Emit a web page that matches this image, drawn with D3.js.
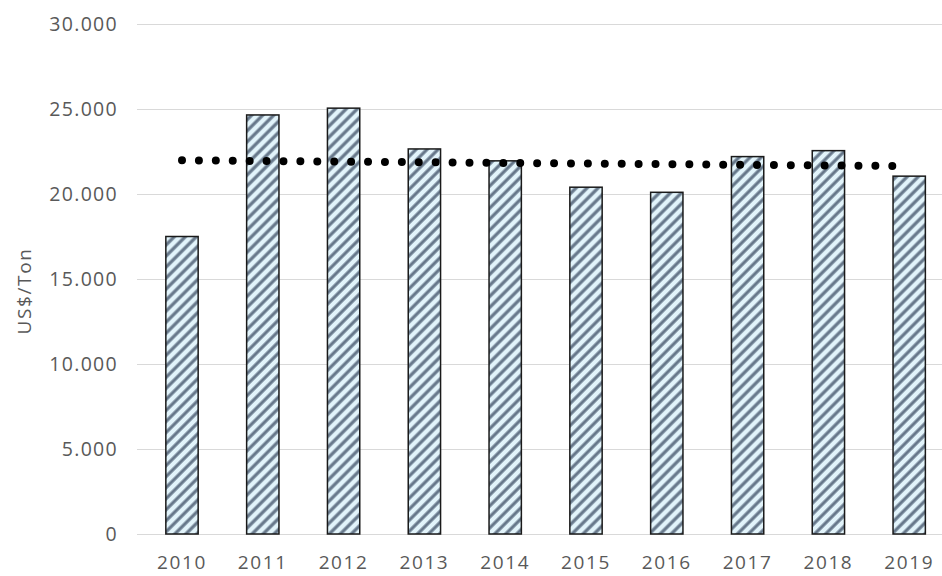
<!DOCTYPE html>
<html>
<head>
<meta charset="utf-8">
<script src="https://cdn.jsdelivr.net/npm/d3@7"></script>
<style>
  html, body { margin: 0; padding: 0; background: #fff; }
  svg { display: block; }
  text { font-family: "Open Sans", sans-serif; fill: #595959; }
</style>
</head>
<body>
<svg id="chart" width="942" height="576"></svg>
<script>
// Annual price, US$ per ton
const years = ["2010", "2011", "2012", "2013", "2014", "2015", "2016", "2017", "2018", "2019"];
const prices = [17500, 24650, 25050, 22650, 21950, 20400, 20100, 22200, 22550, 21050];
const yTicks = [0, 5000, 10000, 15000, 20000, 25000, 30000];
const yLabel = "US$/Ton";

const svg = d3.select("#chart");
const W = 942, H = 576;

const x = d3.scaleBand()
  .domain(years)
  .range([141.6, 949.6])
  .paddingInner(0.6)
  .paddingOuter(0.3);

const y = d3.scaleLinear().domain([0, 30000]).range([534, 24]);

// Diagonal hatch used to fill the bars
const defs = svg.append("defs");
const pat = defs.append("pattern")
  .attr("id", "hatch")
  .attr("patternUnits", "userSpaceOnUse")
  .attr("width", 7.8)
  .attr("height", 7.8)
  .attr("patternTransform", "rotate(45)");
pat.append("rect").attr("width", 7.8).attr("height", 7.8).attr("fill", "#e2f4fb");
pat.append("line")
  .attr("x1", 2).attr("y1", 0).attr("x2", 2).attr("y2", 7.8)
  .attr("stroke", "#66778a").attr("stroke-width", 3.2);

// Horizontal gridlines
svg.append("g")
  .selectAll("line")
  .data(yTicks)
  .join("line")
  .attr("x1", 137).attr("x2", W)
  .attr("y1", d => Math.round(y(d)) + 0.5)
  .attr("y2", d => Math.round(y(d)) + 0.5)
  .attr("stroke", "#d9d9d9")
  .attr("stroke-width", 1);

// Y axis tick labels (dot as thousands separator)
const fmt = d => d === 0 ? "0" : d3.format(",")(d).replace(/,/g, ".");
svg.append("g")
  .selectAll("text")
  .data(yTicks)
  .join("text")
  .attr("x", 118)
  .attr("y", d => y(d))
  .attr("dy", "0.36em")
  .attr("text-anchor", "end")
  .style("font-size", "19.5px")
  .style("letter-spacing", "1.3px")
  .text(fmt);

// X axis labels
svg.append("g")
  .selectAll("text")
  .data(years)
  .join("text")
  .attr("x", d => x(d) + x.bandwidth() / 2)
  .attr("y", 569)
  .attr("text-anchor", "middle")
  .style("font-size", "19px")
  .style("letter-spacing", "1.6px")
  .text(d => d);

// Y axis title
svg.append("text")
  .attr("transform", "translate(31,291) rotate(-90)")
  .attr("text-anchor", "middle")
  .style("font-size", "19px")
  .style("letter-spacing", "1.6px")
  .text(yLabel);

// Bars
svg.append("g")
  .selectAll("rect")
  .data(years.map((yr, i) => ({ yr, v: prices[i] })))
  .join("rect")
  .attr("x", d => x(d.yr))
  .attr("y", d => y(d.v))
  .attr("width", x.bandwidth())
  .attr("height", d => y(0) - y(d.v))
  .attr("fill", "url(#hatch)")
  .attr("stroke", "#1a1a1a")
  .attr("stroke-width", 1.5);

// Linear trend line (least squares over the yearly prices)
const n = prices.length;
const idx = d3.range(n);
const mx = d3.mean(idx), my = d3.mean(prices);
const slope = d3.sum(idx, i => (i - mx) * (prices[i] - my)) / d3.sum(idx, i => (i - mx) ** 2);
const icpt = my - slope * mx;
const trend = idx.map(i => [x(years[i]) + x.bandwidth() / 2, y(icpt + slope * i)]);

const x0 = trend[0][0], x1 = trend[n - 1][0];
const len = Math.hypot(x1 - x0, trend[n - 1][1] - trend[0][1]);
const gap = len / Math.round(len / 16.9);

svg.append("path")
  .attr("d", d3.line()(trend))
  .attr("fill", "none")
  .attr("stroke", "#000")
  .attr("stroke-width", 8)
  .attr("stroke-linecap", "round")
  .attr("stroke-dasharray", `0 ${gap}`);
</script>
</body>
</html>
